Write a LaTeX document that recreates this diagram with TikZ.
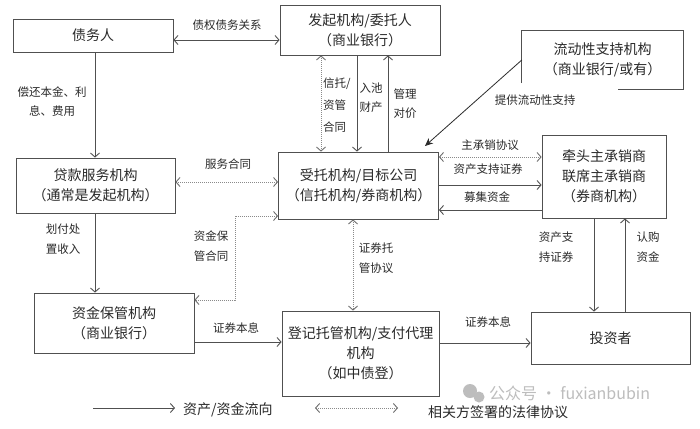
\documentclass[tikz,border=0pt]{standalone}
\usepackage{fontspec}
\setmainfont{Noto Sans CJK SC}
\usetikzlibrary{arrows.meta,calc}
\definecolor{edge}{HTML}{505050}
\definecolor{dotc}{HTML}{8A8A8A}
\definecolor{txt}{HTML}{2A2A2A}
\definecolor{wm}{HTML}{BDBDBD}
\begin{document}
\begin{tikzpicture}[x=1pt,y=-1pt,
  box/.style={draw=edge,line width=0.8pt,inner sep=0pt,align=center,text=txt,
    font=\fontsize{14}{20}\selectfont},
  lbl/.style={inner sep=0pt,align=center,text=txt,font=\fontsize{11.5}{19.5}\selectfont},
  flow/.style={draw=edge,line width=0.9pt,-{Straight Barb[length=4pt,width=9pt]}},
  flowb/.style={draw=edge,line width=0.9pt,{Straight Barb[length=4pt,width=9pt]}-{Straight Barb[length=4pt,width=9pt]}},
  agree/.style={draw=dotc,line width=0.9pt,dash pattern=on 1pt off 1pt,
    {Straight Barb[length=4pt,width=9pt,color=dotc!80!black]}-{Straight Barb[length=4pt,width=9pt,color=dotc!80!black]}},
  stealthflow/.style={draw=txt,line width=0.8pt,-{Stealth[length=8pt,width=7pt]}}
]
\useasboundingbox (0,0) rectangle (700,428);
\fill[white] (0,0) rectangle (700,428);

% boxes
\node[box,minimum width=160pt,minimum height=33pt] (zhaiwu) at (93,35.5) {债务人};
\node[box,minimum width=160pt,minimum height=50pt] (faqi) at (360,30) {发起机构/委托人\\（商业银行）};
\node[inner sep=0pt,align=center,text=txt,font=\fontsize{14}{20}\selectfont,
      minimum width=161pt,minimum height=58pt] (liudong) at (602.5,60) {流动性支持机构\\（商业银行/或有）};
\draw[edge,line width=0.8pt] ($(liudong.south west)+(0,-6)$) -- (liudong.north west) -- (liudong.north east)
   -- (liudong.south east) -- ($(liudong.south west)+(96,0)$);
\node[box,minimum width=159pt,minimum height=55pt] (daikuan) at (95.5,185.5) {贷款服务机构\\（通常是发起机构）};
\node[box,minimum width=160pt,minimum height=67pt] (shoutuo) at (358.5,185.5) {受托机构/目标公司\\（信托机构/券商机构）};
\node[box,minimum width=124pt,minimum height=83pt] (qiantou) at (604,176.5) {牵头主承销商\\联席主承销商\\（券商机构）};
\node[box,minimum width=160pt,minimum height=60pt] (zijin) at (114,323) {资金保管机构\\（商业银行）};
\node[box,minimum width=157pt,minimum height=85pt] (dengji) at (360.5,353.5) {登记托管机构/支付代理\\机构\\（如中债登）};
\node[box,minimum width=159pt,minimum height=52pt] (touzi) at (610.5,338) {投资者};

% connectors
\draw[flowb] (zhaiwu.east |- 0,40) -- (faqi.west |- 0,40);
\draw[flow] (zhaiwu.south -| 95,0) -- (daikuan.north -| 95,0);
\draw[agree] (daikuan.east |- 0,182) -- (shoutuo.west |- 0,182);
\draw[flow] (daikuan.south -| 95,0) -- (zijin.north -| 95,0);
\draw[agree] (shoutuo.west |- 0,216) -- (235,216) -- (235,300) -- (zijin.east |- 0,300);
\draw[agree] (faqi.south -| 321,0) -- (shoutuo.north -| 321,0);
\draw[flow] (faqi.south -| 357,0) -- (shoutuo.north -| 357,0);
\draw[flow] (shoutuo.north -| 388,0) -- (faqi.south -| 388,0);
\coordinate (liqtip) at (425,146);
\draw[stealthflow] (liudong.west |- 0,60) -- (liqtip);
\draw[agree] (shoutuo.east |- 0,157) -- (qiantou.west |- 0,157);
\draw[flow] (shoutuo.east |- 0,185) -- (qiantou.west |- 0,185);
\draw[flow] (qiantou.west |- 0,210) -- (shoutuo.east |- 0,210);
\draw[agree] (shoutuo.south -| 353,0) -- (dengji.north -| 353,0);
\draw[flow] (zijin.east |- 0,342) -- (dengji.west |- 0,342);
\draw[flow] (dengji.east |- 0,343) -- (touzi.west |- 0,343);
\draw[flow] (qiantou.south -| 594,0) -- (touzi.north -| 594,0);
\draw[flow] (touzi.north -| 625,0) -- (qiantou.south -| 625,0);

% labels
\node[lbl] (l1) at (227,25) {债权债务关系};
\node[lbl] (l2) at (52,101.5) {偿还本金、利\\息、费用};
\node[lbl] (l3) at (228,164) {服务合同};
\node[lbl] (l4) at (63,239) {划付处\\置收入};
\node[lbl] (l5) at (211,246) {资金保\\管合同};
\node[lbl,align=left,anchor=west,font=\fontsize{11.5}{22}\selectfont] (l6) at (323,105) {信托/\\资管\\合同};
\node[lbl] (l7) at (371,97.5) {入池\\财产};
\node[lbl] (l8) at (405,103.5) {管理\\对价};
\node[lbl] (l9) at (535,100) {提供流动性支持};
\node[lbl] (l10) at (490,145) {主承销协议};
\node[lbl] (l11) at (488,169) {资产支持证券};
\node[lbl] (l12) at (487,197) {募集资金};
\node[lbl] (l13) at (376,258) {证券托\\管协议};
\node[lbl] (l14) at (556,247) {资产支\\持证券};
\node[lbl] (l15) at (648,247) {认购\\资金};
\node[lbl] (l16) at (236,328) {证券本息};
\node[lbl] (l17) at (488,322) {证券本息};

% watermark
\fill[wm] (470,391) circle (7pt);
\fill[wm] (479,397) circle (5.5pt);
\node[inner sep=0pt,anchor=west,text=wm,font=\fontsize{16}{16}\selectfont] (wmk) at (489,393) {公众号 · fuxianbubin};

% legend
\coordinate (lg1a) at (93,408);
\coordinate (lg1b) at (175,408);
\draw[flow] (lg1a) -- (lg1b);
\node[lbl,anchor=west,font=\fontsize{14}{14}\selectfont] (lt1) at (183,410) {资产/资金流向};
\coordinate (lg2a) at (315,408);
\coordinate (lg2b) at (398,408);
\draw[agree] (lg2a) -- (lg2b);
\node[lbl,anchor=west,font=\fontsize{14}{14}\selectfont] (lt2) at (428,412) {相关方签署的法律协议};
\end{tikzpicture}
\end{document}
